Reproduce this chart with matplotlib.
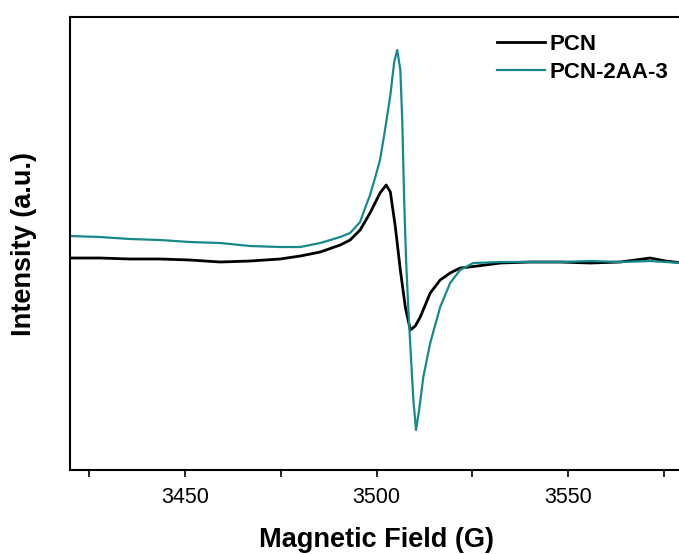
import matplotlib
matplotlib.use("Agg")
import matplotlib.pyplot as plt
from matplotlib.ticker import MultipleLocator

plt.rcParams['font.family'] = ['Liberation Sans', 'DejaVu Sans']

# EPR spectra, field in G, intensity in arbitrary units
field_pcn = [3420.0, 3427.8, 3435.7, 3443.5, 3451.3, 3459.2, 3467.0, 3474.8, 3480.1,
             3485.3, 3490.5, 3493.1, 3495.7, 3498.3, 3500.9, 3502.5, 3503.6, 3504.9,
             3506.2, 3507.5, 3508.8, 3510.1, 3511.4, 3514.0, 3516.6, 3519.2, 3521.8,
             3526.3, 3532.3, 3540.1, 3547.9, 3555.8, 3563.6, 3571.4, 3575.4, 3580.0]
int_pcn = [212, 212, 211, 211, 210, 208, 209, 211, 214,
           218, 225, 230, 240, 257, 277, 285, 278, 243,
           200, 163, 140, 144, 153, 177, 190, 197, 202,
           204, 207, 208, 208, 207, 208, 212, 209, 207]

field_2aa = [3420.0, 3427.8, 3435.7, 3443.5, 3451.3, 3459.2, 3467.0, 3474.8, 3480.1,
             3485.3, 3490.5, 3493.1, 3495.7, 3497.0, 3498.3, 3499.6, 3500.9, 3502.2,
             3503.6, 3504.6, 3505.4, 3506.2, 3506.7, 3507.2, 3507.7, 3508.3, 3508.8,
             3509.6, 3510.3, 3511.1, 3512.2, 3514.0, 3516.6, 3519.2, 3521.8, 3525.2,
             3532.3, 3540.1, 3547.9, 3555.8, 3563.6, 3571.4, 3575.4, 3580.0]
int_2aa = [234, 233, 231, 230, 228, 227, 224, 223, 223,
           227, 233, 237, 248, 262, 275, 292, 310, 340,
           375, 408, 420, 400, 350, 270, 210, 160, 125,
           70, 40, 60, 93, 127, 163, 187, 200, 207,
           208, 208, 208, 209, 208, 209, 208, 207]

fig = plt.figure(figsize=(6.79, 5.54), dpi=100)
ax = fig.add_axes([0.1031, 0.1516, 0.903, 0.8177])

ax.plot(field_pcn, int_pcn, color='black', lw=2.0, label='PCN')
ax.plot(field_2aa, int_2aa, color='#168a8a', lw=1.6, label='PCN-2AA-3')

ax.set_xlim(3420, 3580)
ax.set_ylim(0, 453)
ax.xaxis.set_major_locator(MultipleLocator(50))
ax.xaxis.set_minor_locator(MultipleLocator(25))
ax.tick_params(axis='x', which='both', direction='out', length=5, width=1.2,
               labelsize=15.5, pad=7)
ax.set_yticks([])
for sp in ax.spines.values():
    sp.set_linewidth(1.5)

ax.set_xlabel('Magnetic Field (G)', fontsize=19.5, fontweight='bold', labelpad=14)
ax.set_ylabel('Intensity (a.u.)', fontsize=19.5, fontweight='bold', labelpad=24)

ax.legend(loc='upper left', bbox_to_anchor=(0.664, 1.007), frameon=False,
          prop={'size': 16, 'weight': 'bold'}, handlelength=2.16,
          handletextpad=0.18, labelspacing=0.32)

fig.savefig('out.png', dpi=100)
